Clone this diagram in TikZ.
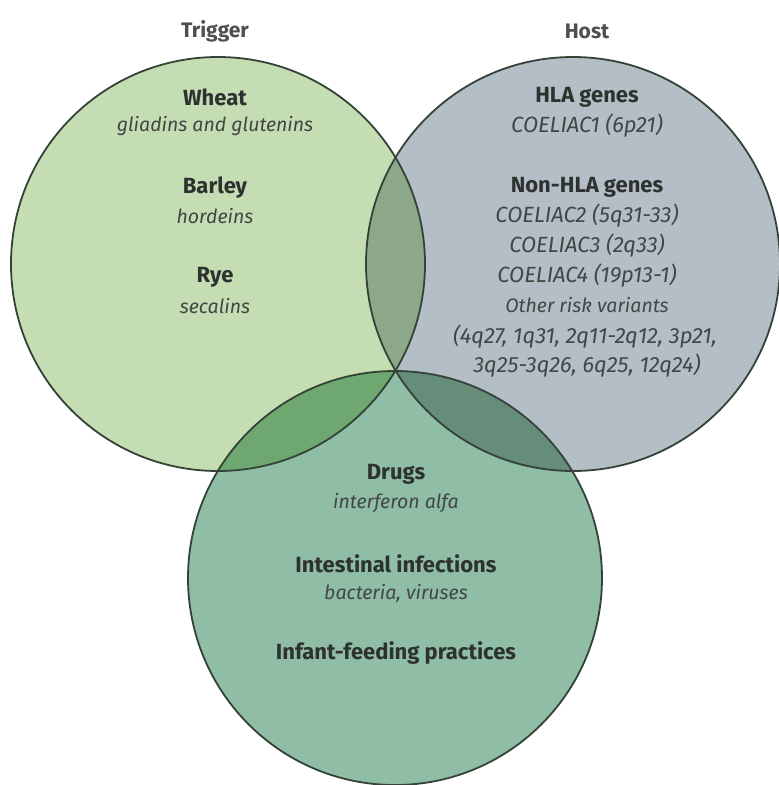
\documentclass[tikz,border=0pt]{standalone}
\usepackage{fontspec}
\setmainfont{Fira Sans}
\definecolor{trig}{RGB}{196,221,178}
\definecolor{host}{RGB}{180,190,198}
\definecolor{env}{RGB}{143,189,165}
\definecolor{th}{RGB}{140,168,136}
\definecolor{te}{RGB}{110,168,112}
\definecolor{he}{RGB}{102,141,122}
\definecolor{edge}{RGB}{52,66,56}
\definecolor{txt}{RGB}{45,50,48}
\begin{document}
\begin{tikzpicture}[x=1pt,y=-1pt,
  head/.style={font=\fontsize{21}{23}\selectfont\bfseries, text=txt!85, inner sep=0},
  lbl/.style={font=\fontsize{22}{24}\selectfont\bfseries, text=txt, inner sep=0},
  sub/.style={font=\fontsize{19.5}{22}\selectfont\itshape, text=txt!90, inner sep=0},
  gene/.style={font=\fontsize{22}{24}\selectfont\itshape, text=txt!90, inner sep=0},
  ring/.style={draw=edge, line width=1.8pt}]
\useasboundingbox (0,0) rectangle (779,785);
\fill[white] (0,0) rectangle (779,785);
\def\R{207}
\coordinate (T) at (218,264);
\coordinate (H) at (573,264);
\coordinate (E) at (395,578);
% base fills
\fill[trig] (T) circle[radius=\R];
\fill[host] (H) circle[radius=\R];
\fill[env] (E) circle[radius=\R];
% pairwise overlaps
\begin{scope}
  \clip (T) circle[radius=\R];
  \fill[th] (H) circle[radius=\R];
  \fill[te] (E) circle[radius=\R];
\end{scope}
\begin{scope}
  \clip (H) circle[radius=\R];
  \fill[he] (E) circle[radius=\R];
\end{scope}
% outlines
\draw[ring] (T) circle[radius=\R];
\draw[ring] (H) circle[radius=\R];
\draw[ring] (E) circle[radius=\R];
% titles
\node[head] (trigger) at (215,31) {Trigger};
\node[head] (host) at (587,31) {Host};
% trigger circle
\node[lbl] (wheat) at (215,97) {Wheat};
\node[sub] (glia) at (215,126) {gliadins and glutenins};
\node[lbl] (barley) at (215,188) {Barley};
\node[sub] (hord) at (215,216) {hordeins};
\node[lbl] (rye) at (215,277) {Rye};
\node[sub] (seca) at (215,306) {secalins};
% host circle
\node[lbl] (hla) at (587,97) {HLA genes};
\node[gene] (c1) at (587,126) {COELIAC1 (6p21)};
\node[lbl] (nonhla) at (587,187) {Non-HLA genes};
\node[gene] (c2) at (587,216) {COELIAC2 (5q31-33)};
\node[gene] (c3) at (587,246) {COELIAC3 (2q33)};
\node[gene] (c4) at (587,276) {COELIAC4 (19p13-1)};
\node[sub] (other) at (587,305) {Other risk variants};
\node[gene] (v1) at (585,337) {(4q27, 1q31, 2q11-2q12, 3p21,};
\node[gene] (v2) at (587,366) {3q25-3q26, 6q25, 12q24)};
% environment circle
\node[lbl] (drugs) at (396,474) {Drugs};
\node[sub] (ifn) at (396,503) {interferon alfa};
\node[lbl] (inf) at (396,564) {Intestinal infections};
\node[sub] (bact) at (396,594) {bacteria, viruses};
\node[lbl] (feed) at (396,653) {Infant-feeding practices};
\end{tikzpicture}
\end{document}
